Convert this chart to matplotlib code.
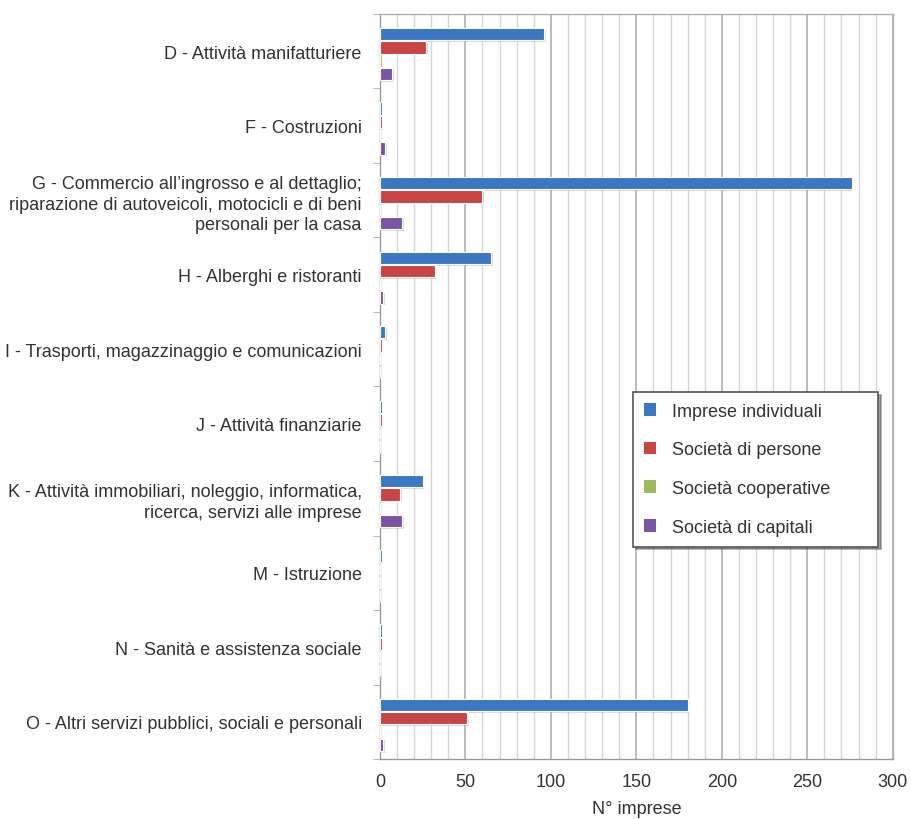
import matplotlib.pyplot as plt
import matplotlib.patheffects as pe
import numpy as np

plt.rcParams['font.family'] = ['Liberation Sans', 'DejaVu Sans']

settori = [
    "D - Attività manifatturiere",
    "F - Costruzioni",
    "G - Commercio all’ingrosso e al dettaglio;\nriparazione di autoveicoli, motocicli e di beni\npersonali per la casa",
    "H - Alberghi e ristoranti",
    "I - Trasporti, magazzinaggio e comunicazioni",
    "J - Attività finanziarie",
    "K - Attività immobiliari, noleggio, informatica,\nricerca, servizi alle imprese",
    "M - Istruzione",
    "N - Sanità e assistenza sociale",
    "O - Altri servizi pubblici, sociali e personali",
]

serie = ["Imprese individuali", "Società di persone",
         "Società cooperative", "Società di capitali"]

individuali = [96, 1, 276, 65, 3, 1, 25, 1, 1, 180]
persone = [27, 1, 60, 32, 1, 1, 12, 0, 1, 51]
cooperative = [1, 0, 0, 0, 0, 0, 0, 0, 0, 0]
capitali = [7, 3, 13, 2, 0, 0, 13, 0, 0, 2]

valori = [individuali, persone, cooperative, capitali]
colori = ["#3c77c3", "#c94545", "#9dbb5b", "#7b55a5"]

fig = plt.figure(figsize=(9.11, 8.2), dpi=100)
ax = fig.add_axes([0.417, 0.073, 0.563, 0.909])

y = np.arange(len(settori))
passo = 0.178
altezza = 0.165
ombra = [pe.SimplePatchShadow(offset=(1.2, -1.2), shadow_rgbFace='#999999', alpha=0.35),
         pe.Normal()]

for k, (vals, col, nome) in enumerate(zip(valori, colori, serie)):
    barre = ax.barh(y + (k - 1.5) * passo + 0.04, vals, height=altezza,
                    color=col, edgecolor='white', linewidth=0.8, label=nome, zorder=3)
    for b in barre:
        b.set_path_effects(ombra)

ax.set_xlim(0, 300)
ax.set_ylim(len(settori) - 0.5, -0.5)

ax.set_xticks(np.arange(0, 301, 50))
ax.set_xticks(np.arange(0, 301, 10), minor=True)
ax.grid(axis='x', which='minor', color='#d6d6d6', linewidth=1.0, zorder=0)
ax.grid(axis='x', which='major', color='#b0b0b0', linewidth=1.2, zorder=0)

ax.set_yticks(y)
ax.set_yticklabels(settori, fontsize=13, color='#333333', linespacing=1.3)
ax.set_yticks(np.arange(-0.5, len(settori), 1), minor=True)
ax.tick_params(axis='y', which='major', length=0, pad=13)
ax.tick_params(axis='y', which='minor', length=5, color='#aaaaaa', direction='out')
ax.tick_params(axis='x', which='both', length=0, labelsize=13, labelcolor='#333333', pad=10)

for s in ax.spines.values():
    s.set_color('#b0b0b0')
    s.set_linewidth(1.0)
ax.spines['left'].set_color('#999999')
ax.spines['bottom'].set_color('#999999')

ax.set_xlabel("N° imprese", fontsize=13, color='#333333', labelpad=7)

leg = ax.legend(loc='upper left', bbox_to_anchor=(0.493, 0.4926, 0.478, 0.0),
                mode='expand', fontsize=13,
                frameon=True, fancybox=False, shadow=True, handlelength=0.7,
                handleheight=0.7, labelspacing=1.2, borderpad=0.6,
                handletextpad=0.9, borderaxespad=0)
leg.get_frame().set_edgecolor('#555555')
leg.get_frame().set_linewidth(1.2)
for t in leg.get_texts():
    t.set_color('#333333')
for h in leg.legend_handles:
    h.set_path_effects([])
    h.set_edgecolor('none')
leg.set_zorder(10)

fig.savefig("out.png", dpi=100)
